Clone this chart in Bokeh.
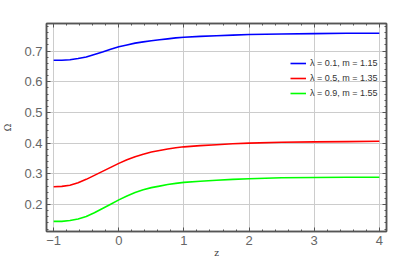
from bokeh.plotting import figure
from bokeh.models import Range1d, Legend, LegendItem, FixedTicker, LinearAxis, CustomJSTickFormatter
from bokeh.embed import file_html
from bokeh.resources import INLINE

z = [-1.0, -0.875, -0.75, -0.625, -0.5, -0.375, -0.25, -0.125, 0.0, 0.125, 0.25, 0.375, 0.5,
     0.625, 0.75, 0.875, 1.0, 1.25, 1.5, 1.75, 2.0, 2.5, 3.0, 3.5, 4.0]
omega_1 = [0.670, 0.670, 0.672, 0.676, 0.681, 0.689, 0.697, 0.706, 0.714, 0.720, 0.726, 0.730, 0.734,
           0.737, 0.740, 0.743, 0.745, 0.748, 0.750, 0.752, 0.754, 0.756, 0.757, 0.758, 0.758]
omega_2 = [0.258, 0.259, 0.263, 0.271, 0.282, 0.295, 0.308, 0.321, 0.334, 0.346, 0.356, 0.364, 0.371,
           0.376, 0.381, 0.385, 0.388, 0.392, 0.395, 0.398, 0.400, 0.403, 0.404, 0.405, 0.406]
omega_3 = [0.145, 0.145, 0.148, 0.153, 0.161, 0.173, 0.187, 0.201, 0.215, 0.228, 0.239, 0.248, 0.255,
           0.260, 0.265, 0.269, 0.272, 0.276, 0.279, 0.282, 0.284, 0.287, 0.288, 0.289, 0.289]
labels = ["\u03bb = 0.1, m = 1.15", "\u03bb = 0.5, m = 1.35", "\u03bb = 0.9, m = 1.55"]
colors = ["#0000ff", "#ff0000", "#00ff00"]
x_ticks = [-1, 0, 1, 2, 3, 4]
y_ticks = [0.2, 0.3, 0.4, 0.5, 0.6, 0.7]
x_minor = [i / 5 for i in range(-5, 21)]
y_minor = [round(0.12 + 0.02 * i, 2) for i in range(34)]

p = figure(width=393, height=260, output_backend="svg", toolbar_location=None,
           x_range=Range1d(-1.11, 4.11), y_range=Range1d(0.112, 0.79),
           min_border_left=45, min_border_right=7, min_border_top=23, min_border_bottom=28)
p.background_fill_color = "white"
p.border_fill_color = "white"
p.outline_line_color = "#555555"
p.outline_line_width = 1.5


def style(ax):
    ax.axis_line_color = "#555555"
    ax.axis_line_width = 1.5
    ax.major_tick_in = 4
    ax.major_tick_out = 0
    ax.minor_tick_in = 2
    ax.minor_tick_out = 0
    ax.major_tick_line_color = "#555555"
    ax.minor_tick_line_color = "#555555"


for ax in p.xaxis + p.yaxis:
    style(ax)
    ax.major_label_text_color = "#666666"
    ax.major_label_text_font = "Liberation Sans"
    ax.major_label_text_font_size = "13px"
    ax.axis_label_text_font = "DejaVu Serif"
    ax.axis_label_text_font_style = "normal"
    ax.axis_label_text_font_size = "9px"
    ax.axis_label_text_color = "#444444"

p.xaxis.ticker = FixedTicker(ticks=x_ticks, minor_ticks=x_minor)
p.yaxis.ticker = FixedTicker(ticks=y_ticks, minor_ticks=y_minor)
p.xaxis.major_label_standoff = 4
p.yaxis.major_label_standoff = 4
p.xaxis.axis_label = "z"
p.yaxis.axis_label = "\u03a9"
p.xaxis.axis_label_standoff = 0
p.yaxis.axis_label_standoff = 8

for loc, ticks, minor in (("above", x_ticks, x_minor), ("right", y_ticks, y_minor)):
    ax = LinearAxis(ticker=FixedTicker(ticks=ticks, minor_ticks=minor),
                    formatter=CustomJSTickFormatter(code="return ''"))
    style(ax)
    ax.major_label_standoff = 0
    p.add_layout(ax, loc)

p.xgrid.ticker = FixedTicker(ticks=x_ticks)
p.ygrid.ticker = FixedTicker(ticks=y_ticks)
p.grid.grid_line_color = "#cccccc"
p.grid.grid_line_width = 1

items = []
for ys, c, lab in zip([omega_1, omega_2, omega_3], colors, labels):
    r = p.line(z, ys, line_color=c, line_width=1.6)
    items.append(LegendItem(label=lab, renderers=[r]))

legend = Legend(items=items, location=(244, 131))
legend.background_fill_alpha = 0
legend.border_line_alpha = 0
legend.padding = 0
legend.margin = 0
legend.spacing = 1
legend.glyph_width = 16
legend.glyph_height = 14
legend.label_height = 14
legend.label_width = 80
legend.label_standoff = 4
legend.label_text_font = "Liberation Sans"
legend.label_text_font_size = "9px"
legend.label_text_color = "#333333"
p.add_layout(legend, "center")

open("out.html", "w").write(file_html(p, INLINE))
